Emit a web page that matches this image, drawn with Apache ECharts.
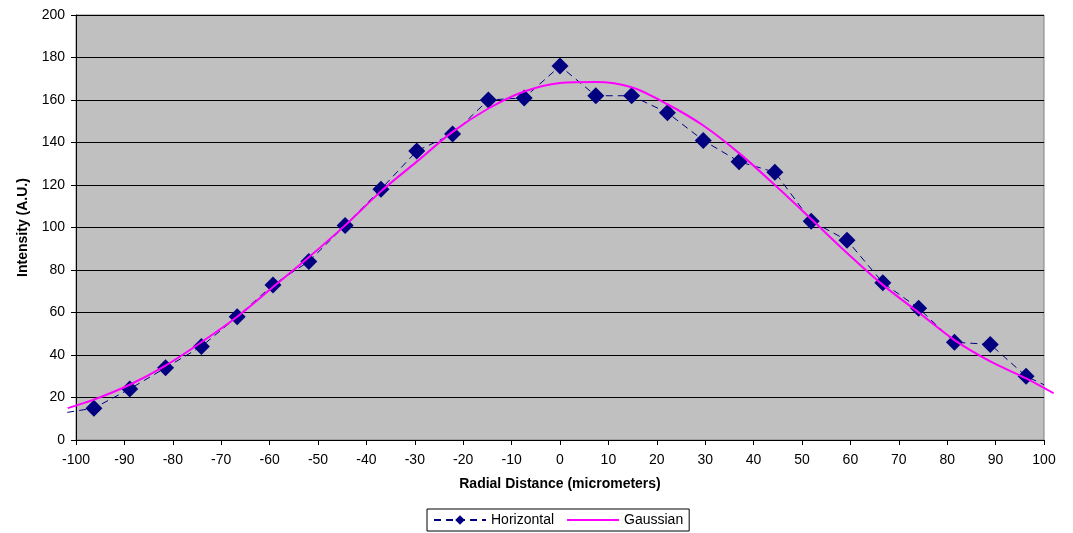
<!DOCTYPE html>
<html><head><meta charset="utf-8">
<script src="https://cdn.jsdelivr.net/npm/echarts@6/dist/echarts.min.js"></script>
<style>html,body{margin:0;padding:0;background:#fff}#c{width:1073px;height:533px}</style>
</head><body><div id="c"></div>
<script>
const horizX = [-101.8,-96.3,-88.9,-81.5,-74.1,-66.7,-59.3,-51.9,-44.4,-37.0,-29.6,-22.2,-14.8,-7.4,0,7.4,14.8,22.2,29.6,37.0,44.4,51.9,59.3,66.7,74.1,81.5,88.9,96.3,100];
const horizY = [13,15,24,34,44,58,73,84,101,118,136,144,160,161,176,162,162,154,141,131,126,103,94,74,62,46,45,30,26];
const gaussX = [-101.7,-96.3,-88.9,-81.5,-74.1,-66.7,-59.3,-51.9,-44.4,-37.0,-29.6,-22.2,-14.8,-7.4,0,7.4,14.8,22.2,29.6,37.0,44.4,51.9,59.3,66.7,74.1,81.5,88.9,96.3,102];
const gaussY = [15,19,26,35,46,58,72,86,101,117,131,145,156,164,168,168.5,166,158,148,135,120,104,88,73,60,47,37,29,22];
const xTicks = {min:-100,max:100,interval:10};
const yTicks = {min:0,max:200,interval:20};

const chart = echarts.init(document.getElementById('c'));
const font = 'Liberation Sans, Arial, sans-serif';
const hData = horizX.map((x,i)=>{
  const d = {value:[x,horizY[i]]};
  if (x < -100 || x >= 100) d.symbolSize = 0;
  return d;
});
// the data lines run slightly past the plot frame; a hidden, wider overlay grid with the same scale carries them
const pxPerUnit = (1073-76-29)/(xTicks.max-xTicks.min);
const extraL = 9, extraR = 10;
chart.setOption({
  animation:false,
  grid:[
    {left:76,right:29,top:15,bottom:93,show:true,backgroundColor:'#c0c0c0',borderColor:'#808080',borderWidth:1},
    {left:76-extraL,right:29-extraR,top:15,bottom:93,show:false}
  ],
  xAxis:[{type:'value',gridIndex:0,min:xTicks.min,max:xTicks.max,interval:xTicks.interval,
    name:'Radial Distance (micrometers)',nameLocation:'middle',nameGap:37,
    nameTextStyle:{fontFamily:font,fontWeight:'bold',fontSize:14,color:'#000'},
    axisLine:{onZero:false,lineStyle:{color:'#000',width:1}},
    axisTick:{show:true,length:5,lineStyle:{color:'#000'}},
    axisLabel:{fontFamily:font,fontSize:14,color:'#000',margin:13},
    splitLine:{show:false}},
    {type:'value',gridIndex:1,show:false,min:xTicks.min-extraL/pxPerUnit,max:xTicks.max+extraR/pxPerUnit,splitLine:{show:false}}],
  yAxis:[{type:'value',gridIndex:0,min:yTicks.min,max:yTicks.max,interval:yTicks.interval,
    name:'Intensity (A.U.)',nameLocation:'middle',nameGap:46,
    nameTextStyle:{fontFamily:font,fontWeight:'bold',fontSize:14,color:'#000'},
    axisLine:{show:true,onZero:false,lineStyle:{color:'#000',width:1}},
    axisTick:{show:true,length:5,lineStyle:{color:'#000'}},
    axisLabel:{fontFamily:font,fontSize:14,color:'#000',margin:11},
    splitLine:{show:true,lineStyle:{color:'#000',width:1}}},
    {type:'value',gridIndex:1,show:false,min:yTicks.min,max:yTicks.max,splitLine:{show:false}}],
  legend:{bottom:2,left:427,borderColor:'#000',borderWidth:1,padding:[4,6],itemGap:12,itemWidth:52,itemHeight:12,
    textStyle:{fontFamily:font,fontSize:14,color:'#000'},
    data:['Horizontal',{name:'Gaussian',itemStyle:{opacity:0}}]},
  series:[
    {name:'Horizontal',type:'line',xAxisIndex:1,yAxisIndex:1,data:hData,clip:false,
      symbol:'diamond',symbolSize:17,showAllSymbol:true,
      itemStyle:{color:'#000080'},
      lineStyle:{color:'#000080',width:1,type:[7,5]},z:3},
    {name:'Gaussian',type:'line',xAxisIndex:1,yAxisIndex:1,data:gaussX.map((x,i)=>[x,gaussY[i]]),clip:false,
      symbol:'none',smooth:0.3,
      itemStyle:{color:'#ff00ff'},
      lineStyle:{color:'#ff00ff',width:2},z:4}
  ]
});
</script></body></html>
